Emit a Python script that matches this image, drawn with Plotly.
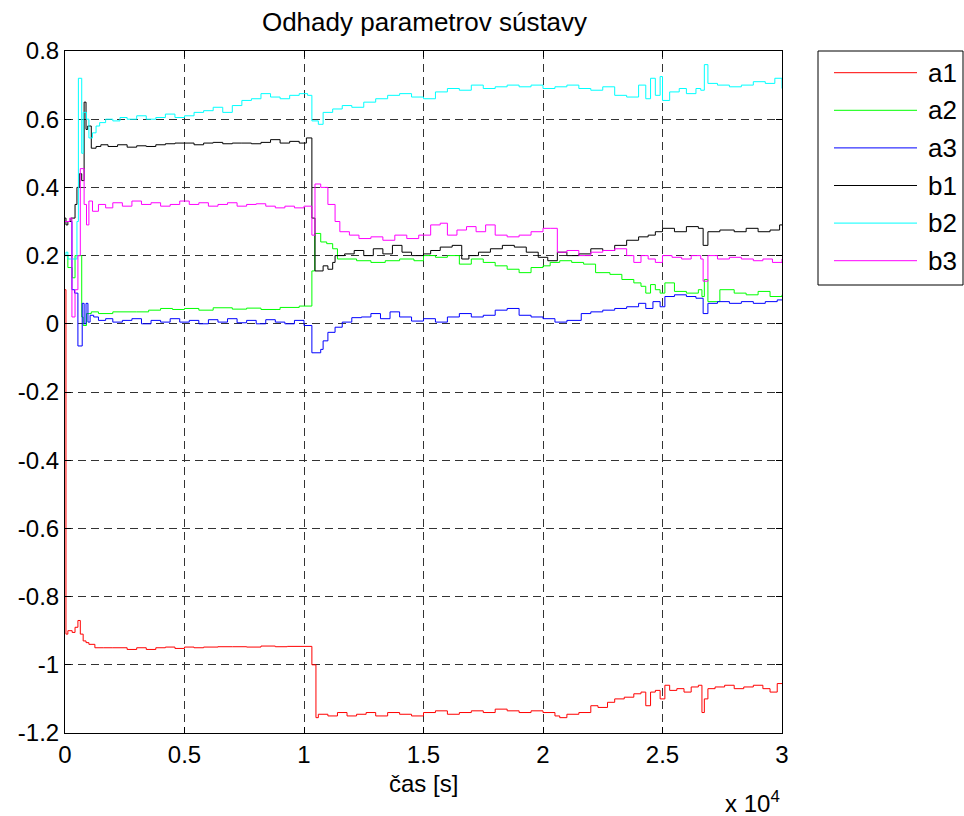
import plotly.graph_objects as go

# ---------------- data (time in seconds) ----------------
t_a1 = [0, 40, 120, 300, 420, 540, 640, 760, 880, 1000, 1250, 1600, 2000, 2600, 3000, 3400, 3800, 4200, 4600, 5000,
        5400, 5800, 6400, 7000, 7600, 8200, 8800, 9300, 10330, 10500, 10600, 11000, 11400, 11800, 12200, 12600,
        13000, 13500, 14000, 14500, 15000, 15500, 16000, 16500, 17000, 17500, 18000, 18500, 19000, 19500, 20000,
        20500, 20700, 21000, 21500, 22000, 22300, 22700, 23000, 23400, 23800, 24100, 24300, 24500, 24700, 24900,
        25100, 25300, 25600, 25900, 26200, 26500, 26650, 26750, 26900, 27200, 27600, 28000, 28400, 28800, 29200,
        29500, 29800, 30000]
a1 = [0.1, -0.91, -0.90, -0.905, -0.89, -0.87, -0.91, -0.93, -0.935, -0.94, -0.95, -0.95, -0.95, -0.955, -0.95,
      -0.955, -0.95, -0.948, -0.952, -0.948, -0.95, -0.948, -0.947, -0.947, -0.948, -0.945, -0.947, -0.946, -1.0,
      -1.155, -1.145, -1.15, -1.14, -1.15, -1.145, -1.14, -1.15, -1.14, -1.145, -1.15, -1.14, -1.135, -1.145,
      -1.14, -1.135, -1.14, -1.13, -1.135, -1.14, -1.135, -1.14, -1.15, -1.155, -1.145, -1.14, -1.12, -1.125,
      -1.11, -1.1, -1.095, -1.085, -1.08, -1.12, -1.08, -1.075, -1.1, -1.06, -1.075, -1.07, -1.08, -1.065, -1.06,
      -1.14, -1.10, -1.07, -1.065, -1.06, -1.07, -1.065, -1.06, -1.07, -1.08, -1.055, -1.055]

t_a2 = [0, 60, 120, 300, 420, 700, 760, 900, 1100, 1400, 2000, 3000, 3500, 4000, 4500, 5000, 5600, 6200, 7000, 7600,
        8200, 9000, 9800, 10330, 10450, 10700, 10950, 11200, 11400, 11800, 12200, 12800, 13400, 14000, 14600, 15000,
        15500, 16000, 16500, 17000, 17500, 18000, 18500, 19000, 19500, 20000, 20300, 20700, 21200, 21700, 22200,
        22800, 23300, 23800, 24100, 24300, 24500, 24700, 24900, 25100, 25500, 26000, 26500, 26650, 26750, 26900,
        27400, 28000, 28500, 29000, 29500, 30000]
a2 = [0.2, 0.2, 0.165, 0.135, 0.2, 0.02, -0.005, 0.03, 0.035, 0.03, 0.035, 0.035, 0.04, 0.045, 0.042, 0.045, 0.04,
      0.047, 0.043, 0.046, 0.042, 0.048, 0.052, 0.155, 0.265, 0.24, 0.235, 0.22, 0.19, 0.19, 0.185, 0.18, 0.185,
      0.19, 0.185, 0.2, 0.195, 0.2, 0.175, 0.19, 0.18, 0.17, 0.16, 0.15, 0.165, 0.17, 0.18, 0.185, 0.18, 0.175,
      0.15, 0.145, 0.13, 0.12, 0.11, 0.09, 0.115, 0.1, 0.09, 0.12, 0.095, 0.09, 0.1, 0.08, 0.13, 0.065, 0.1, 0.09,
      0.085, 0.095, 0.08, 0.085]

t_a3 = [0, 40, 290, 400, 540, 720, 800, 880, 960, 1050, 1200, 1400, 1700, 2000, 2400, 2800, 3200, 3600, 4000, 4400,
        4800, 5200, 5600, 6000, 6400, 6800, 7200, 7600, 8000, 8400, 8800, 9200, 9600, 10000, 10330, 10700, 10800,
        11000, 11300, 11600, 12000, 12400, 12800, 13200, 13600, 14000, 14500, 15000, 15500, 16000, 16500, 17000,
        17500, 18000, 18500, 19000, 19500, 20000, 20500, 21000, 21600, 22000, 22500, 23000, 23500, 24000, 24300,
        24600, 24900, 25100, 25500, 26000, 26400, 26700, 26900, 27300, 27800, 28300, 28800, 29300, 29800, 30000]
a3 = [0.3, 0.3, 0.1, 0.09, -0.065, 0.06, 0.0, 0.06, 0.005, 0.025, 0.02, 0.01, 0.015, 0.005, 0.01, 0.015, 0.0, 0.01,
      0.005, 0.015, 0.005, 0.01, 0.0, 0.012, 0.005, 0.015, 0.003, 0.01, 0.0, 0.012, 0.005, 0.0, 0.01, -0.005,
      -0.085, -0.075, -0.05, -0.025, -0.01, 0.005, 0.018, 0.02, 0.03, 0.015, 0.035, 0.02, 0.008, 0.015, 0.005,
      0.02, 0.03, 0.02, 0.025, 0.04, 0.045, 0.025, 0.02, 0.015, 0.005, 0.01, 0.03, 0.035, 0.04, 0.045, 0.05, 0.06,
      0.045, 0.065, 0.05, 0.08, 0.085, 0.08, 0.075, 0.03, 0.06, 0.065, 0.06, 0.065, 0.06, 0.065, 0.07, 0.07]

t_b1 = [0, 40, 120, 250, 420, 500, 600, 700, 800, 880, 950, 1100, 1300, 1500, 1800, 2200, 2600, 3000, 3400, 3800,
        4200, 4600, 5000, 5400, 5800, 6200, 6600, 7000, 7400, 7800, 8200, 8600, 9000, 9400, 9800, 10100, 10330,
        10460, 10800, 11000, 11200, 11300, 11700, 12100, 12500, 12900, 13300, 13700, 14100, 14500, 15000, 15300,
        15700, 16200, 16600, 16900, 17300, 17800, 18300, 18800, 19300, 19800, 20200, 20600, 21000, 21500, 22000,
        22500, 23000, 23500, 24000, 24400, 24700, 25000, 25500, 26000, 26500, 26700, 26900, 27400, 28000, 28500,
        29000, 29500, 29900, 30000]
b1 = [0.31, 0.29, 0.3, 0.31, 0.35, 0.4, 0.44, 0.42, 0.65, 0.57, 0.58, 0.515, 0.52, 0.525, 0.52, 0.525, 0.518,
      0.522, 0.52, 0.525, 0.528, 0.53, 0.53, 0.525, 0.53, 0.532, 0.528, 0.53, 0.53, 0.528, 0.532, 0.54, 0.53,
      0.535, 0.53, 0.545, 0.31, 0.155, 0.17, 0.16, 0.18, 0.2, 0.205, 0.215, 0.2, 0.22, 0.205, 0.23, 0.21, 0.2,
      0.205, 0.215, 0.225, 0.23, 0.19, 0.2, 0.21, 0.22, 0.23, 0.225, 0.21, 0.195, 0.185, 0.21, 0.2, 0.205, 0.22,
      0.215, 0.23, 0.245, 0.255, 0.26, 0.27, 0.28, 0.27, 0.285, 0.28, 0.23, 0.27, 0.275, 0.27, 0.28, 0.27, 0.275,
      0.29, 0.29]

t_b2 = [0, 40, 120, 500, 560, 700, 760, 900, 1000, 1150, 1300, 1450, 1700, 2000, 2300, 2600, 3000, 3400, 3800, 4200,
        4600, 5000, 5400, 5800, 6200, 6600, 7000, 7400, 7800, 8200, 8600, 9000, 9400, 9800, 10150, 10330, 10600,
        10800, 11200, 11600, 12000, 12500, 13000, 13500, 14000, 14500, 15000, 15500, 16000, 16500, 17000, 17500,
        18000, 18500, 19000, 19500, 20000, 20500, 21000, 21500, 22000, 22500, 23000, 23500, 24000, 24300, 24500,
        24700, 24900, 25000, 25300, 25700, 26000, 26400, 26600, 26750, 26900, 27300, 27800, 28300, 28800, 29300,
        29700, 30000]
b2 = [0.2, 0.21, 0.19, 0.3, 0.72, 0.5, 0.62, 0.6, 0.545, 0.56, 0.58, 0.59, 0.6, 0.595, 0.605, 0.6, 0.61, 0.6,
      0.605, 0.615, 0.605, 0.61, 0.62, 0.625, 0.635, 0.62, 0.64, 0.655, 0.66, 0.675, 0.665, 0.66, 0.67, 0.675,
      0.67, 0.595, 0.585, 0.62, 0.63, 0.64, 0.635, 0.65, 0.66, 0.67, 0.675, 0.665, 0.66, 0.68, 0.69, 0.685, 0.7,
      0.69, 0.695, 0.7, 0.695, 0.7, 0.69, 0.695, 0.7, 0.69, 0.685, 0.695, 0.67, 0.665, 0.7, 0.66, 0.72, 0.67,
      0.725, 0.655, 0.68, 0.69, 0.675, 0.69, 0.685, 0.76, 0.705, 0.7, 0.695, 0.7, 0.71, 0.705, 0.72, 0.69]

t_b3 = [0, 200, 290, 420, 540, 640, 800, 900, 1000, 1150, 1400, 1700, 2000, 2400, 2800, 3200, 3600, 4000, 4400,
        4800, 5200, 5600, 6000, 6400, 6800, 7200, 7600, 8000, 8400, 8800, 9200, 9600, 10000, 10330, 10460, 10700,
        11000, 11300, 11500, 11900, 12300, 12800, 13300, 13800, 14300, 14800, 15300, 15700, 16000, 16400, 16800,
        17200, 17600, 18000, 18500, 19000, 19500, 20000, 20300, 20600, 21000, 21500, 22000, 22500, 23000, 23500,
        23800, 24100, 24400, 24700, 25000, 25400, 25800, 26200, 26600, 26700, 26900, 27300, 27800, 28300, 28800,
        29200, 29600, 30000]
b3 = [0.3, 0.31, 0.02, 0.1, 0.2, 0.455, 0.35, 0.29, 0.36, 0.33, 0.35, 0.34, 0.355, 0.345, 0.36, 0.35, 0.355, 0.345,
      0.35, 0.36, 0.35, 0.355, 0.345, 0.35, 0.355, 0.345, 0.35, 0.352, 0.345, 0.34, 0.345, 0.34, 0.345, 0.26,
      0.41, 0.40, 0.35, 0.30, 0.27, 0.26, 0.25, 0.255, 0.245, 0.26, 0.25, 0.26, 0.29, 0.295, 0.26, 0.275, 0.285,
      0.27, 0.29, 0.26, 0.255, 0.26, 0.27, 0.28, 0.28, 0.21, 0.215, 0.2, 0.21, 0.215, 0.22, 0.2, 0.18, 0.2, 0.19,
      0.18, 0.2, 0.195, 0.19, 0.2, 0.19, 0.125, 0.2, 0.19, 0.195, 0.19, 0.185, 0.19, 0.18, 0.19]

series_names = ["a1", "a2", "a3", "b1", "b2", "b3"]
series_t = [t_a1, t_a2, t_a3, t_b1, t_b2, t_b3]
series_y = [a1, a2, a3, b1, b2, b3]
series_colors = ["#ff0000", "#00ff00", "#0000ff", "#000000", "#00ffff", "#ff00ff"]

x_tickvals = [0, 5000, 10000, 15000, 20000, 25000, 30000]
x_ticktext = ["0", "0.5", "1", "1.5", "2", "2.5", "3"]
y_tickvals = [0.8, 0.6, 0.4, 0.2, 0, -0.2, -0.4, -0.6, -0.8, -1.0, -1.2]
y_ticktext = ["0.8", "0.6", "0.4", "0.2", "0", "-0.2", "-0.4", "-0.6", "-0.8", "-1", "-1.2"]

FONT = "Liberation Sans, Arial, Helvetica, sans-serif"

# plot-area geometry (pixels) used to place the legend box in paper coordinates
W, H = 964, 816
L, R, T, B = 65, 182, 51, 83
PW, PH = W - L - R, H - T - B


def px_to_paper_x(px):
    return (px - L) / PW


def px_to_paper_y(py):
    return (H - B - py) / PH


fig = go.Figure()
for name, tt, yy, col in zip(series_names, series_t, series_y, series_colors):
    fig.add_trace(go.Scatter(x=tt, y=yy, name=name, mode="lines", line_shape="hv",
                             line=dict(color=col, width=1), showlegend=False))

axis_common = dict(showline=True, linecolor="black", linewidth=1, mirror="ticks",
                   ticks="inside", ticklen=6, tickcolor="black",
                   showgrid=True, gridcolor="#333333", gridwidth=1, griddash="8px,5px",
                   zeroline=False, tickfont=dict(family=FONT, size=24, color="black"))

fig.update_xaxes(range=[0, 30000], tickvals=x_tickvals, ticktext=x_ticktext, **axis_common)
fig.update_yaxes(range=[-1.2, 0.8], tickvals=y_tickvals, ticktext=y_ticktext, **axis_common)

# MATLAB-style legend box: long line samples with labels to the right
shapes = [dict(type="rect", xref="paper", yref="paper",
               x0=px_to_paper_x(818), x1=px_to_paper_x(963),
               y0=px_to_paper_y(285), y1=px_to_paper_y(51),
               line=dict(color="black", width=1), fillcolor="white", layer="above")]
annotations = []
for i, (name, col) in enumerate(zip(series_names, series_colors)):
    py = 72.7 + i * 37.6
    shapes.append(dict(type="line", xref="paper", yref="paper",
                       x0=px_to_paper_x(834), x1=px_to_paper_x(917),
                       y0=px_to_paper_y(py), y1=px_to_paper_y(py),
                       line=dict(color=col, width=1), layer="above"))
    annotations.append(dict(text=name, xref="paper", yref="paper",
                            x=px_to_paper_x(926), y=px_to_paper_y(py),
                            xanchor="left", yanchor="middle", showarrow=False,
                            font=dict(family=FONT, size=26, color="black")))

annotations += [
    dict(text="čas [s]", xref="paper", yref="paper", x=0.5, y=px_to_paper_y(783),
         xanchor="center", yanchor="middle", showarrow=False,
         font=dict(family=FONT, size=24, color="black")),
    dict(text="x 10<sup>4</sup>", xref="paper", yref="paper", x=px_to_paper_x(752), y=px_to_paper_y(802),
         xanchor="center", yanchor="middle", showarrow=False,
         font=dict(family=FONT, size=24, color="black")),
]

fig.update_layout(
    width=W, height=H,
    margin=dict(l=L, r=R, t=T, b=B),
    paper_bgcolor="white", plot_bgcolor="white",
    font=dict(family=FONT, color="black"),
    showlegend=False,
    title=dict(text="Odhady parametrov sústavy", x=px_to_paper_x(424.5), xref="paper", xanchor="center",
               y=1 - 22 / H, yanchor="middle", yref="container",
               font=dict(family=FONT, size=26, color="black")),
    shapes=shapes,
    annotations=annotations,
)

fig.write_html("out.html")
